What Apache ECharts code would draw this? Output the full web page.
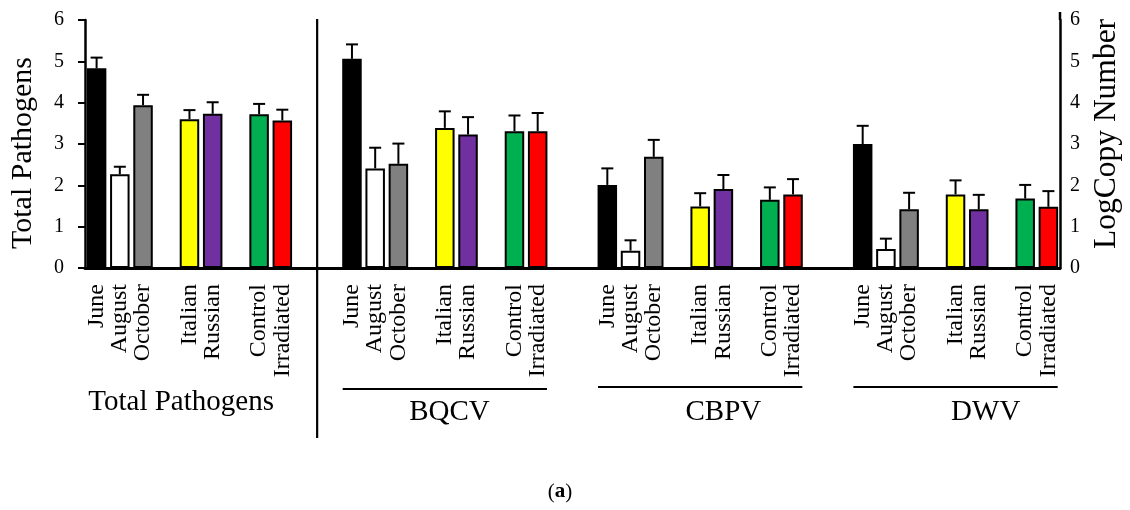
<!DOCTYPE html>
<html>
<head>
<meta charset="utf-8">
<script src="https://cdn.jsdelivr.net/npm/echarts@6/dist/echarts.min.js"></script>
<style>
html,body{margin:0;padding:0;background:#fff;}
#chart{width:1130px;height:510px;}
</style>
</head>
<body>
<div id="chart"></div>
<script>
// ---- data ----
const groupNames = ['Total Pathogens', 'BQCV', 'CBPV', 'DWV'];
const treatments = ['June', 'August', 'October', '', 'Italian', 'Russian', '', 'Control', 'Irradiated'];
const totalPathogens = [4.83, 2.27, 3.94, null, 3.60, 3.73, null, 3.72, 3.57];
const totalPathogensErr = [0.26, 0.18, 0.25, null, 0.22, 0.28, null, 0.25, 0.26];
const bqcv = [5.06, 2.41, 2.52, null, 3.39, 3.23, null, 3.31, 3.31];
const bqcvErr = [0.35, 0.50, 0.49, null, 0.40, 0.42, null, 0.38, 0.44];
const cbpv = [2.01, 0.42, 2.69, null, 1.49, 1.91, null, 1.65, 1.78];
const cbpvErr = [0.40, 0.25, 0.41, null, 0.32, 0.34, null, 0.30, 0.37];
const dwv = [3.00, 0.46, 1.42, null, 1.78, 1.42, null, 1.68, 1.48];
const dwvErr = [0.44, 0.25, 0.40, null, 0.34, 0.35, null, 0.33, 0.38];
const yTicks = [0, 1, 2, 3, 4, 5, 6];
const leftAxisTitle = 'Total Pathogens';
const rightAxisTitle = 'LogCopy Number';
const panelLabel = 'a';

// ---- styles ----
const colorOf = {
  June: '#000000', August: '#ffffff', October: '#808080',
  Italian: '#ffff00', Russian: '#7030a0', Control: '#00b050', Irradiated: '#ff0000'
};
const FONT = '"Liberation Serif", "Times New Roman", serif';

const groupValues = [totalPathogens, bqcv, cbpv, dwv];
const groupErrors = [totalPathogensErr, bqcvErr, cbpvErr, dwvErr];
const GAP = 2;

// build categories & data
const xCats = [];
const barData = [];
const errData = [];
const groupStart = [];
groupNames.forEach((g, gi) => {
  groupStart.push(xCats.length);
  treatments.forEach((t, ti) => {
    const idx = xCats.length;
    xCats.push(t);
    const v = groupValues[gi][ti];
    if (v == null) {
      barData.push('-');
    } else {
      barData.push({ value: v, itemStyle: { color: colorOf[t] } });
      errData.push([idx, v, groupErrors[gi][ti]]);
    }
  });
  if (gi < groupNames.length - 1) {
    for (let k = 0; k < GAP; k++) { xCats.push(''); barData.push('-'); }
  }
});

const chart = echarts.init(document.getElementById('chart'), null, { renderer: 'canvas' });

const option = {
  backgroundColor: '#ffffff',
  animation: false,
  grid: { left: 85, right: 70, top: 20, bottom: 242, containLabel: false },
  xAxis: {
    type: 'category',
    data: xCats,
    axisLine: { show: true, lineStyle: { color: '#000', width: 3 } },
    axisTick: { show: false },
    axisLabel: {
      interval: 0, rotate: 90, margin: 16,
      fontFamily: FONT, fontSize: 24, color: '#000'
    },
    splitLine: { show: false }
  },
  yAxis: [
    {
      type: 'value', min: 0, max: 6, interval: 1, position: 'left',
      axisLine: { show: true, onZero: false, lineStyle: { color: '#000', width: 2.5 } },
      axisTick: { show: true, length: 7, lineStyle: { color: '#000', width: 2 } },
      axisLabel: { margin: 21, fontFamily: FONT, fontSize: 20, color: '#000',
        formatter: v => yTicks.includes(v) ? String(v) : '' },
      splitLine: { show: false }
    },
    {
      type: 'value', min: 0, max: 6, interval: 1, position: 'right',
      axisLine: { show: true, onZero: false, lineStyle: { color: '#000', width: 2.5 } },
      axisTick: { show: false },
      axisLabel: { margin: 10, fontFamily: FONT, fontSize: 20, color: '#000',
        formatter: v => yTicks.includes(v) ? String(v) : '' },
      splitLine: { show: false }
    }
  ],
  series: [
    {
      type: 'bar',
      data: barData,
      barWidth: '84%',
      itemStyle: { borderColor: '#000', borderWidth: 2 },
      z: 2
    },
    {
      type: 'custom',
      data: errData,
      z: 3,
      renderItem: function (params, api) {
        const idx = api.value(0);
        const v = api.value(1);
        const e = api.value(2);
        const p0 = api.coord([idx, v]);
        const p1 = api.coord([idx, v + e]);
        const half = 6;
        return {
          type: 'group',
          children: [
            { type: 'line', shape: { x1: p0[0], y1: p0[1], x2: p1[0], y2: p1[1] },
              style: { stroke: '#000', lineWidth: 2 } },
            { type: 'line', shape: { x1: p1[0] - half, y1: p1[1], x2: p1[0] + half, y2: p1[1] },
              style: { stroke: '#000', lineWidth: 2 } }
          ]
        };
      }
    }
  ]
};
chart.setOption(option);

// ---- decorations computed from the axes ----
function xPix(i) { return chart.convertToPixel({ xAxisIndex: 0 }, i); }
const slot = xPix(1) - xPix(0);
function xAt(f) { return xPix(0) + f * slot; }
const y6 = chart.convertToPixel({ yAxisIndex: 0 }, 6);
const rightX = chart.getWidth() - 70;

const graphics = [];
// vertical divider between Total Pathogens and the virus groups
const divX = (xPix(groupStart[1] - 2) + xPix(groupStart[1] - 1)) / 2;
graphics.push({ type: 'line', shape: { x1: divX, y1: y6 - 1, x2: divX, y2: 438 },
  style: { stroke: '#000', lineWidth: 2.2 }, z: 10 });
// right axis extension above 6
graphics.push({ type: 'line', shape: { x1: rightX, y1: y6, x2: rightX, y2: y6 - 8 },
  style: { stroke: '#000', lineWidth: 2.5 }, z: 10 });
// group underlines (virus groups)
const underlineY = [null, 389, 387, 387];
for (let gi = 1; gi < groupNames.length; gi++) {
  const s = groupStart[gi], e = s + treatments.length - 1;
  graphics.push({ type: 'line',
    shape: { x1: xAt(s) - 0.4 * slot, y1: underlineY[gi], x2: xAt(e) + 0.4 * slot, y2: underlineY[gi] },
    style: { stroke: '#000', lineWidth: 2 }, z: 10 });
}
// group labels
const labelSlot = [3.64, 15.2, 27.0, 38.3];
const labelBase = [417, 427, 427, 427];
groupNames.forEach((g, gi) => {
  graphics.push({ type: 'text', x: xAt(labelSlot[gi]), y: labelBase[gi], z: 10,
    style: { text: g, fontFamily: FONT, fontSize: 29, fill: '#000',
      textAlign: 'center', textVerticalAlign: 'bottom' } });
});
// axis titles (rotated, reading upward)
graphics.push({ type: 'text', x: 23, y: 249, rotation: Math.PI / 2, z: 10,
  style: { text: leftAxisTitle, fontFamily: FONT, fontSize: 30, fill: '#000',
    textAlign: 'left', textVerticalAlign: 'middle' } });
graphics.push({ type: 'text', x: 1107, y: 249, rotation: Math.PI / 2, z: 10,
  style: { text: rightAxisTitle, fontFamily: FONT, fontSize: 31.5, fill: '#000',
    textAlign: 'left', textVerticalAlign: 'middle' } });
// panel label (a)
graphics.push({ type: 'text', x: 560, y: 492, z: 10,
  style: { text: '(' + '{b|' + panelLabel + '}' + ')', fontFamily: FONT, fontSize: 21, fill: '#000',
    textAlign: 'center', textVerticalAlign: 'middle',
    rich: { b: { fontFamily: FONT, fontSize: 21, fontWeight: 'bold', fill: '#000' } } } });

chart.setOption({ graphic: { elements: graphics } });
</script>
</body>
</html>
